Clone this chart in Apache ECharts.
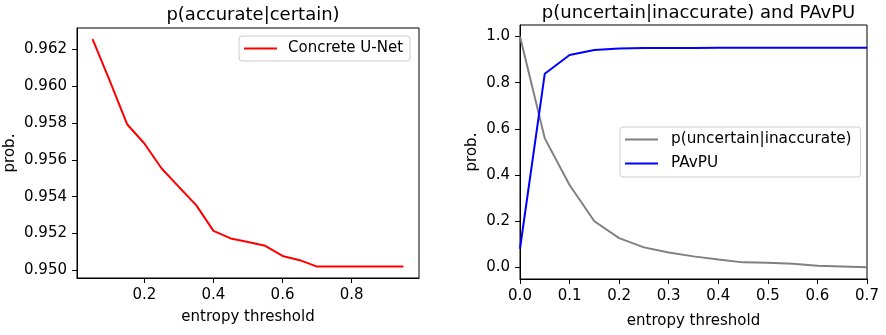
<!DOCTYPE html>
<html><head><meta charset="utf-8">
<script src="https://cdn.jsdelivr.net/npm/echarts@6/dist/echarts.min.js"></script>
<style>html,body{margin:0;padding:0;background:#fff}#c{width:886px;height:335px}</style>
</head><body><div id="c"></div>
<script>
// Left panel: p(accurate|certain)
const leftX = [0.05,0.10,0.15,0.20,0.25,0.30,0.35,0.40,0.45,0.50,0.55,0.60,0.65,0.70,0.75,0.80,0.85,0.90,0.95];
const concreteUNet = [0.96256,0.96030,0.95794,0.95689,0.95553,0.95453,0.95354,0.95214,0.95173,0.95154,0.95133,0.95078,0.95055,0.95020,0.95020,0.95020,0.95020,0.95020,0.95020];
const leftXTicks = [0.2,0.4,0.6,0.8];
const leftYTicks = [0.950,0.952,0.954,0.956,0.958,0.960,0.962];
// Right panel: p(uncertain|inaccurate) and PAvPU
const rightX = [0.00,0.05,0.10,0.15,0.20,0.25,0.30,0.35,0.40,0.45,0.50,0.55,0.60,0.65,0.70];
const pUncertainInaccurate = [1.000,0.559,0.357,0.200,0.127,0.087,0.065,0.048,0.034,0.022,0.020,0.016,0.007,0.004,0.001];
const pavpu = [0.081,0.839,0.920,0.942,0.948,0.950,0.950,0.950,0.951,0.951,0.951,0.951,0.951,0.951,0.951];
const rightXTicks = [0.0,0.1,0.2,0.3,0.4,0.5,0.6,0.7];
const rightYTicks = [0.0,0.2,0.4,0.6,0.8,1.0];

const FONT = 'DejaVu Sans';
const FS = 15;
const pairs = (xs, ys) => xs.map((x, i) => [x, ys[i]]);
const tickStyle = {show:true, length:5, lineStyle:{color:'#000', width:1}};
const lbl = (dec, vals, margin) => ({show:true, fontFamily:FONT, fontSize:FS, color:'#000', margin:margin,
  customValues: vals, formatter: v => Number(v).toFixed(dec)});
const nameStyle = {fontFamily:FONT, fontSize:FS, color:'#000'};

const chart = echarts.init(document.getElementById('c'), null, {renderer:'canvas'});
chart.setOption({
  animation:false,
  textStyle:{fontFamily:FONT},
  title:[
    {text:'p(accurate|certain)', left:248, top:1, textAlign:'center',
     textStyle:{fontFamily:FONT, fontSize:18, fontWeight:'normal', color:'#000'}},
    {text:'p(uncertain|inaccurate) and PAvPU', left:693.5, top:-1, textAlign:'center',
     textStyle:{fontFamily:FONT, fontSize:18, fontWeight:'normal', color:'#000'}}
  ],
  grid:[
    {left:77, top:28, width:342, height:250, show:true, borderColor:'#000', borderWidth:1, backgroundColor:'transparent'},
    {left:520, top:25, width:347, height:254, show:true, borderColor:'#000', borderWidth:1, backgroundColor:'transparent'}
  ],
  xAxis:[
    {type:'value', gridIndex:0, min:0.005, max:0.995, name:'entropy threshold', nameLocation:'middle', nameGap:32,
     nameTextStyle:nameStyle,
     axisLine:{show:true, onZero:false, lineStyle:{color:'#000'}},
     axisTick:Object.assign({customValues:leftXTicks}, tickStyle),
     axisLabel:lbl(1, leftXTicks, 10), splitLine:{show:false}},
    {type:'value', gridIndex:1, min:0, max:0.7, name:'entropy threshold', nameLocation:'middle', nameGap:35,
     nameTextStyle:nameStyle,
     axisLine:{show:true, onZero:false, lineStyle:{color:'#000'}},
     axisTick:Object.assign({customValues:rightXTicks}, tickStyle),
     axisLabel:lbl(1, rightXTicks, 10), splitLine:{show:false}}
  ],
  yAxis:[
    {type:'value', gridIndex:0, min:0.94958, max:0.96317, name:'prob.', nameLocation:'middle', nameGap:59,
     nameTextStyle:nameStyle,
     axisLine:{show:true, onZero:false, lineStyle:{color:'#000'}},
     axisTick:Object.assign({customValues:leftYTicks}, tickStyle),
     axisLabel:lbl(3, leftYTicks, 10), splitLine:{show:false}},
    {type:'value', gridIndex:1, min:-0.05, max:1.05, name:'prob.', nameLocation:'middle', nameGap:40,
     nameTextStyle:nameStyle,
     axisLine:{show:true, onZero:false, lineStyle:{color:'#000'}},
     axisTick:Object.assign({customValues:rightYTicks}, tickStyle),
     axisLabel:lbl(1, rightYTicks, 10), splitLine:{show:false}}
  ],
  legend:[
    {data:['Concrete U-Net'], left:239, top:36, orient:'vertical', icon:'rect', itemWidth:33, itemHeight:2.2, itemGap:10,
     backgroundColor:'#fff', borderColor:'#cccccc', borderWidth:1, borderRadius:3, padding:[5,7,5,5],
     textStyle:{fontFamily:FONT, fontSize:FS, color:'#000', padding:[0,0,0,6]}},
    {data:['p(uncertain|inaccurate)','PAvPU'], left:620, top:127, orient:'vertical', icon:'rect', itemWidth:33, itemHeight:2.2, itemGap:9,
     backgroundColor:'#fff', borderColor:'#cccccc', borderWidth:1, borderRadius:3, padding:[5,9,6,5],
     textStyle:{fontFamily:FONT, fontSize:15.3, color:'#000', padding:[0,0,0,8]}}
  ],
  series:[
    {name:'Concrete U-Net', type:'line', xAxisIndex:0, yAxisIndex:0, data:pairs(leftX, concreteUNet),
     showSymbol:false, symbol:'none', color:'#ff0000', lineStyle:{color:'#ff0000', width:2}},
    {name:'p(uncertain|inaccurate)', type:'line', xAxisIndex:1, yAxisIndex:1, data:pairs(rightX, pUncertainInaccurate),
     showSymbol:false, symbol:'none', color:'#808080', lineStyle:{color:'#808080', width:2}},
    {name:'PAvPU', type:'line', xAxisIndex:1, yAxisIndex:1, data:pairs(rightX, pavpu),
     showSymbol:false, symbol:'none', color:'#0000ff', lineStyle:{color:'#0000ff', width:2}}
  ]
});
</script></body></html>
